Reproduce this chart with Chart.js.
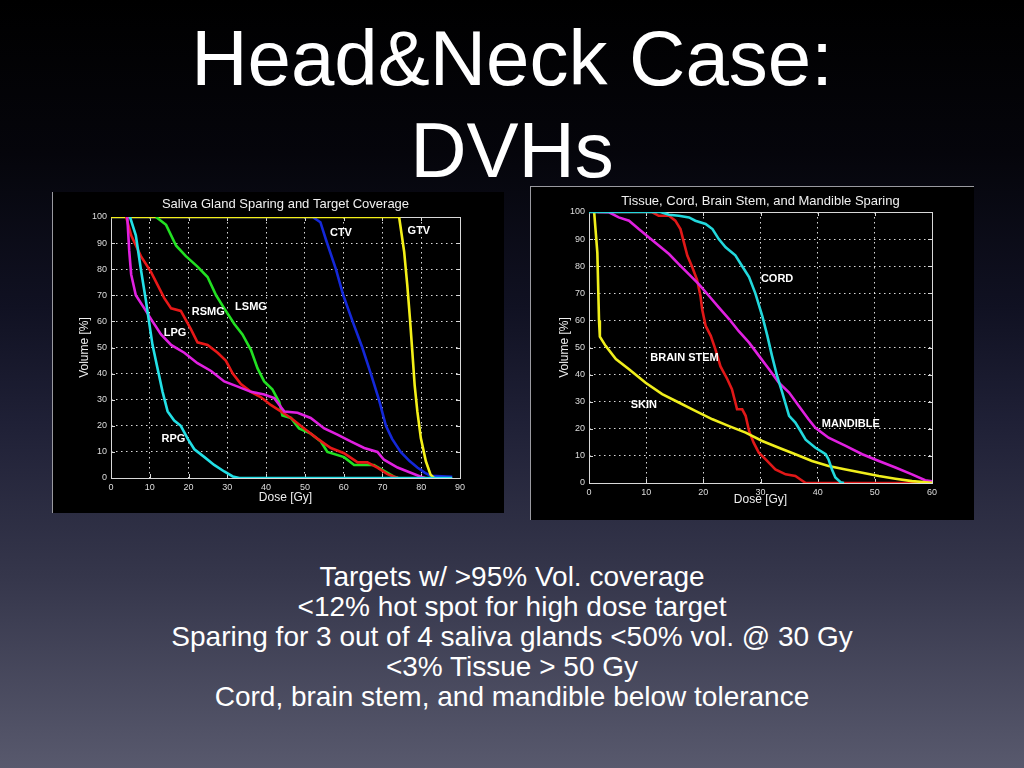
<!DOCTYPE html>
<html>
<head>
<meta charset="utf-8">
<script src="https://cdn.jsdelivr.net/npm/chart.js@4.4.0/dist/chart.umd.min.js"></script>
<style>
html,body{margin:0;padding:0;}
body{width:1024px;height:768px;overflow:hidden;position:relative;
 background:linear-gradient(to bottom,#000000 0%,#05050b 20%,#101122 40%,#1f2036 55%,#35364b 75%,#58596d 100%);
 font-family:"Liberation Sans",Arial,Helvetica,sans-serif;color:#fff;}
#title{position:absolute;left:0;top:12px;width:1024px;text-align:center;font-size:78px;line-height:92px;color:#fff;}
#notes{position:absolute;left:0;top:562px;width:1024px;text-align:center;font-size:28px;line-height:30px;color:#fff;}
.panel{position:absolute;background:#000;}
#p1{left:52px;top:192px;width:451px;height:321px;border-left:1px solid #9a9aa0;}
#p2{left:530px;top:186px;width:443px;height:333px;border-left:1px solid #9a9aa0;border-top:1px solid #9a9aa0;}
canvas{display:block;}
</style>
</head>
<body>
<div id="title">Head&amp;Neck Case:<br>DVHs</div>
<div id="notes">Targets w/ &gt;95% Vol. coverage<br>&lt;12% hot spot for high dose target<br>Sparing for 3 out of 4 saliva glands &lt;50% vol. @ 30 Gy<br>&lt;3% Tissue &gt; 50 Gy<br>Cord, brain stem, and mandible below tolerance</div>
<div class="panel" id="p1"><canvas id="c1" width="451" height="321"></canvas></div>
<div class="panel" id="p2"><canvas id="c2" width="443" height="333"></canvas></div>
<script>
// ---------- Chart 1: Saliva Gland Sparing and Target Coverage ----------
const chart1Title = "Saliva Gland Sparing and Target Coverage";
const ctvDose  = [0, 52, 54, 55.5, 58, 59.9, 62.3, 64.8, 67, 69.1, 70.9, 72.5, 74.7, 77, 79, 81, 82.5, 88];
const ctvVol   = [100, 100, 98, 91, 80, 70, 60, 50, 40, 30, 20, 15, 10, 6.5, 4, 2, 0.8, 0.5];
const gtvDose  = [0, 74.3, 75.6, 76.4, 77.1, 77.7, 78.3, 79.0, 79.9, 81.2, 82.4, 83.3];
const gtvVol   = [100, 100, 86.7, 74, 61, 48.5, 35.7, 25.5, 15.3, 6.4, 1.3, 0];
const lsmgDose = [11.6, 14.2, 16.8, 19.3, 22.3, 24.9, 27.1, 29.2, 31.8, 33.9, 36.1, 37.8, 39.5, 41.6, 43.4, 44.2, 46.4, 48.5, 51.5, 54.1, 55.8, 60.1, 62.7, 67.8, 71.3, 73, 74];
const lsmgVol  = [100, 97, 89, 85, 81, 77, 70, 65, 59, 55, 49, 42, 37, 34, 29, 24, 23, 19, 17, 14, 10, 8, 5, 5, 2, 0.5, 0];
const rsmgDose = [3.9, 5.2, 7.7, 10.3, 12, 13.7, 15.5, 18, 20.6, 22.3, 24.9, 27.5, 29.6, 31.4, 33.5, 36.1, 38.6, 41.2, 43.8, 46.4, 49.8, 53.3, 56.7, 60.1, 63.6, 66.1, 68.7, 71.3, 73, 74];
const rsmgVol  = [100, 93, 85, 79, 74, 69, 65, 64, 57, 52, 51, 48, 45, 40, 36, 33, 31, 28, 25.5, 23, 19, 15, 11.5, 9.5, 6, 6, 4, 1.5, 0.5, 0];
const lpgDose  = [4.2, 4.7, 5.2, 6.4, 8.6, 10.7, 12.9, 15.5, 18.9, 22.3, 25.8, 29.2, 32.7, 36.1, 39.5, 42.1, 44.7, 48.1, 51.5, 55, 58.4, 61.8, 65.3, 68.7, 70.4, 73.9, 77.3, 79.9, 81];
const lpgVol   = [100, 87, 78, 70, 65, 60, 55, 51, 48, 44, 41, 37, 35, 33, 32, 30.6, 25.5, 25, 23, 19, 16.6, 14, 11.5, 10, 7, 4, 2, 0.5, 0];
const rpgDose  = [4.9, 6.4, 7.7, 9, 9.9, 10.7, 12, 13.3, 14.6, 16.3, 18, 19.8, 21.5, 24.1, 26.6, 29.2, 31.4, 33.1, 88];
const rpgVol   = [100, 93, 80, 68, 59, 51, 42, 33, 25.5, 22, 20, 15, 11, 8, 5, 2.5, 0.6, 0, 0];
const chart1Labels = ["CTV", "GTV", "LSMG", "RSMG", "LPG", "RPG"];
const chart1LabelDose = [59.3, 79.4, 36.1, 25.1, 16.5, 16.1];
const chart1LabelVol  = [93.7, 94.6, 65.7, 63.8, 55.7, 15];

// ---------- Chart 2: Tissue, Cord, Brain Stem, and Mandible Sparing ----------
const chart2Title = "Tissue, Cord, Brain Stem, and Mandible Sparing";
const cordDose = [0, 12.5, 14, 15.7, 17.5, 18.6, 20.4, 21.6, 22.7, 23.9, 25.6, 26.8, 28, 29.1, 30.3, 31.2, 32, 32.9, 33.8, 35, 36.1, 37, 37.9, 39.6, 41.4, 41.9, 42.5, 43.1, 44, 44.6];
const cordVol  = [100, 100, 99, 98.6, 98, 96.8, 95.6, 93.7, 90, 87, 84, 80, 76, 70, 61.7, 54.3, 47, 39.5, 33.4, 24.8, 22.3, 19.2, 16, 13, 10.6, 8.7, 5, 2, 0.3, 0];
const skinDose = [0.9, 1.46, 1.75, 1.9, 2.9, 4.7, 7, 9.9, 12.8, 15.7, 18.6, 21.6, 24.5, 27.4, 30.3, 33.2, 36.1, 39, 41.9, 44.9, 47.8, 50.7, 53.6, 56.5, 59.4, 60];
const skinVol  = [100, 85, 60, 54, 50.6, 45.7, 42, 37, 32.8, 29.7, 26.6, 23.5, 21, 18.6, 15.5, 13, 10.6, 8.1, 6.3, 5, 3.8, 2.6, 1.6, 0.7, 0.2, 0.1];
const mandDose = [1.5, 3.5, 5.2, 7, 8.7, 10.5, 12.2, 14, 15.7, 17.5, 19.2, 21, 22.7, 24.5, 26.2, 28, 29.7, 31.5, 33.2, 35, 36.7, 38.4, 39.6, 41.9, 44.9, 47.8, 50.7, 53.6, 56.5, 58.8, 60];
const mandVol  = [100, 99.9, 98, 96.8, 93.7, 90.6, 87.6, 84.5, 80.8, 77, 73.4, 69, 64.8, 60.5, 56, 51.8, 47, 42, 37, 33.4, 28.4, 23.5, 20.4, 16.7, 13.7, 10.6, 8.1, 5.7, 3.2, 1, 0.6];
const bsDose   = [0, 11, 12.2, 14, 15.1, 16, 16.6, 17.2, 18, 18.9, 19.5, 19.8, 20.4, 21.3, 22.1, 23, 24.2, 25, 25.6, 25.9, 26.8, 27.4, 28, 28.8, 29.7, 30.9, 32.6, 34.4, 36.1, 37, 37.9, 60];
const bsVol    = [100, 100, 98.6, 98.6, 96.8, 93.7, 88.8, 83.9, 80, 75, 69, 64, 58, 54.3, 49.4, 43, 38.3, 34.6, 29.7, 27.2, 27.2, 24.8, 19.2, 14.9, 11.2, 8.7, 5, 3.2, 2.6, 1.3, 0, 0];
const chart2Labels = ["CORD", "BRAIN STEM", "SKIN", "MANDIBLE"];
const chart2LabelDose = [32.9, 16.7, 9.6, 45.8];
const chart2LabelVol  = [75.2, 46.2, 28.7, 21.6];

const FONT = '"Liberation Sans", Arial, Helvetica, sans-serif';

function pts(xs, ys){ return xs.map((x,i)=>({x:x, y:ys[i]})); }
function ds(xs, ys, color){
  return {data: pts(xs, ys), borderColor: color, backgroundColor: color, borderWidth: 2.6,
          pointRadius: 0, tension: 0, fill: false, showLine: true};
}

function makePlugin(title, titleGap, labels, ldose, lvol){
  return {
    id: 'matlabDecor',
    beforeDatasetsDraw(chart){
      const {ctx, chartArea:a, scales} = chart;
      ctx.save();
      // inward tick marks
      ctx.strokeStyle = '#d8d8d8'; ctx.lineWidth = 1;
      ctx.beginPath();
      scales.x.ticks.forEach(t=>{
        const px = Math.round(scales.x.getPixelForValue(t.value))+0.5;
        ctx.moveTo(px, a.bottom); ctx.lineTo(px, a.bottom-4);
        ctx.moveTo(px, a.top); ctx.lineTo(px, a.top+4);
      });
      scales.y.ticks.forEach(t=>{
        const py = Math.round(scales.y.getPixelForValue(t.value))+0.5;
        ctx.moveTo(a.left, py); ctx.lineTo(a.left+4, py);
        ctx.moveTo(a.right, py); ctx.lineTo(a.right-4, py);
      });
      ctx.stroke();
      // axes box
      ctx.strokeRect(Math.round(a.left)+0.5, Math.round(a.top)+0.5, Math.round(a.right-a.left), Math.round(a.bottom-a.top));
      ctx.restore();
    },
    afterDatasetsDraw(chart){
      const {ctx, chartArea:a, scales} = chart;
      ctx.save();
      ctx.fillStyle = '#f0f0f0';
      ctx.font = '13px ' + FONT;
      ctx.textAlign = 'center'; ctx.textBaseline = 'middle';
      ctx.fillText(title, (a.left+a.right)/2, a.top - titleGap);
      ctx.font = 'bold 11px ' + FONT;
      ctx.fillStyle = '#ffffff';
      labels.forEach((l,i)=>{
        ctx.fillText(l, scales.x.getPixelForValue(ldose[i]), scales.y.getPixelForValue(lvol[i]));
      });
      ctx.restore();
    }
  };
}

function opts(xmax, xAxisH, padRight, padTop, xTitlePad, yTitlePad){
  const grid = {color: 'rgba(255,255,255,0.85)', lineWidth: 1, drawTicks: false};
  return {
    responsive: false, animation: false, maintainAspectRatio: false,
    layout: {padding: {left: 0, right: padRight, top: padTop, bottom: 0}},
    plugins: {legend: {display: false}, tooltip: {enabled: false}, title: {display: false}},
    scales: {
      x: {type: 'linear', min: 0, max: xmax,
          ticks: {stepSize: 10, color: '#dddddd', font: {family: FONT, size: 9}, padding: 4, maxRotation: 0, autoSkip: false},
          grid: grid, border: {display: false, dash: [1.5, 3.5]},
          title: {display: true, text: 'Dose [Gy]', color: '#eeeeee', font: {family: FONT, size: 12}, padding: {top: 0, bottom: xTitlePad}},
          afterFit: s => { s.height = xAxisH; }},
      y: {min: 0, max: 100,
          ticks: {stepSize: 10, color: '#dddddd', font: {family: FONT, size: 9}, padding: 4, autoSkip: false},
          grid: grid, border: {display: false, dash: [1.5, 3.5]},
          title: {display: true, text: 'Volume [%]', color: '#eeeeee', font: {family: FONT, size: 12}, padding: {top: yTitlePad, bottom: 0}},
          afterFit: s => { s.width = 58; }}
    }
  };
}

new Chart(document.getElementById('c1'), {
  type: 'line',
  data: {datasets: [
    ds(rpgDose, rpgVol, '#22e0e6'),
    ds(lpgDose, lpgVol, '#e020e0'),
    ds(rsmgDose, rsmgVol, '#e81818'),
    ds(lsmgDose, lsmgVol, '#22e022'),
    ds(gtvDose, gtvVol, '#f4f018'),
    ds(ctvDose, ctvVol, '#1428d8')
  ]},
  options: opts(90, 35, 44, 25, 8, 24),
  plugins: [makePlugin(chart1Title, 13, chart1Labels, chart1LabelDose, chart1LabelVol)]
});

new Chart(document.getElementById('c2'), {
  type: 'line',
  data: {datasets: [
    ds(cordDose, cordVol, '#22d8dc'),
    ds(skinDose, skinVol, '#f0ee1c'),
    ds(mandDose, mandVol, '#e020e0'),
    ds(bsDose, bsVol, '#e01818')
  ]},
  options: opts(60, 37, 42, 25, 13, 26),
  plugins: [makePlugin(chart2Title, 11, chart2Labels, chart2LabelDose, chart2LabelVol)]
});
</script>
</body>
</html>
